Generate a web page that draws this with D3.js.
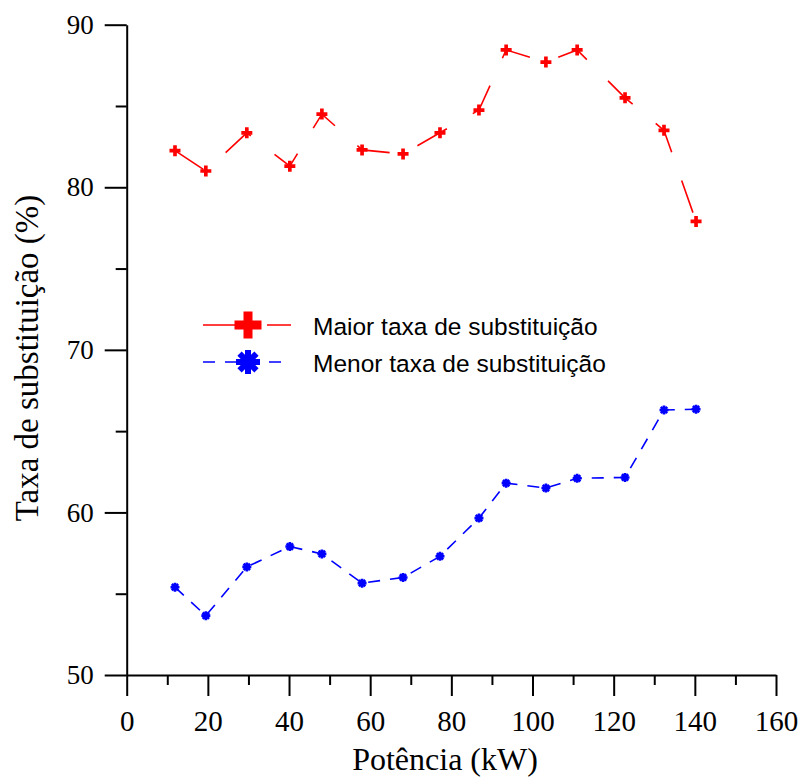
<!DOCTYPE html>
<html>
<head>
<meta charset="utf-8">
<script src="https://cdn.jsdelivr.net/npm/d3@7"></script>
<style>
  html, body { margin: 0; padding: 0; background: #fff; }
  svg { display: block; }
</style>
</head>
<body>
<svg id="chart" width="800" height="780"></svg>
<script>
// Power (kW) at each measurement
const potencia = [11.9, 19.5, 29.6, 40.2, 48.1, 58.0, 68.1, 77.2, 86.8, 93.5, 103.3, 111.0, 122.8, 132.4, 140.3];
// Highest substitution rate (%)
const maiorTaxa = [82.25, 81.0, 83.35, 81.3, 84.5, 82.3, 82.05, 83.35, 84.75, 88.45, 87.7, 88.45, 85.5, 83.5, 77.9];
// Lowest substitution rate (%)
const menorTaxa = [55.4, 53.65, 56.65, 57.9, 57.45, 55.65, 56.0, 57.3, 59.65, 61.8, 61.5, 62.1, 62.15, 66.3, 66.35];

const xMajorTicks = [0, 20, 40, 60, 80, 100, 120, 140, 160];
const xMinorTicks = [10, 30, 50, 70, 90, 110, 130, 150];
const yMajorTicks = [50, 60, 70, 80, 90];
const yMinorTicks = [55, 65, 75, 85];

const seriesNames = ["Maior taxa de substituição", "Menor taxa de substituição"];

const svg = d3.select("#chart");

const x = d3.scaleLinear().domain([0, 160]).range([126.7, 776]);
const y = d3.scaleLinear().domain([50, 90]).range([675, 24.7]);

const serif = "'Liberation Serif', 'Times New Roman', serif";
const sans = "'Liberation Sans', Arial, sans-serif";

// ---- axes ----
function styleAxis(g) {
  g.select(".domain").attr("stroke", "#000").attr("stroke-width", 2);
  g.selectAll(".tick line").attr("stroke", "#000").attr("stroke-width", 2);
}

const xAxisY = y(50);
const yAxisX = x(0);

svg.append("g")
  .attr("transform", `translate(0,${xAxisY})`)
  .call(d3.axisBottom(x).tickValues(xMinorTicks).tickSize(10).tickFormat(""))
  .call(styleAxis)
  .call(g => g.select(".domain").remove());

svg.append("g")
  .attr("transform", `translate(0,${xAxisY})`)
  .call(d3.axisBottom(x).tickValues(xMajorTicks).tickSize(21).tickSizeOuter(0).tickPadding(14).tickFormat(d3.format("d")))
  .call(styleAxis)
  .call(g => g.selectAll("text")
    .attr("font-family", serif).attr("font-size", 29).attr("fill", "#000"));

svg.append("g")
  .attr("transform", `translate(${yAxisX},0)`)
  .call(d3.axisLeft(y).tickValues(yMinorTicks).tickSize(11).tickFormat(""))
  .call(styleAxis)
  .call(g => g.select(".domain").remove());

svg.append("g")
  .attr("transform", `translate(${yAxisX},0)`)
  .call(d3.axisLeft(y).tickValues(yMajorTicks).tickSize(22).tickSizeOuter(0).tickPadding(11).tickFormat(d3.format("d")))
  .call(styleAxis)
  .call(g => g.selectAll("text")
    .attr("font-family", serif).attr("font-size", 27).attr("fill", "#000"));

// axis titles
svg.append("text")
  .attr("x", 445).attr("y", 770)
  .attr("text-anchor", "middle")
  .attr("font-family", serif).attr("font-size", 32)
  .text("Potência (kW)");

svg.append("text")
  .attr("transform", "translate(38,358) rotate(-90)")
  .attr("text-anchor", "middle")
  .attr("font-family", serif).attr("font-size", 33)
  .text("Taxa de substituição (%)");

// ---- marker shapes ----
const plusPath = w => d3.symbol(d3.symbolCross, 5 * (w / 3) * (w / 3))();
function asteriskPath(r) {
  const d = r * Math.SQRT1_2;
  return `M0,${-r}L0,${r}M${-r},0L${r},0M${-d},${-d}L${d},${d}M${-d},${d}L${d},${-d}`;
}

// ---- series ----
const line = d3.line().x(d => x(d[0])).y(d => y(d[1]));

const redData = potencia.map((p, i) => [p, maiorTaxa[i]]);
const blueData = potencia.map((p, i) => [p, menorTaxa[i]]);

svg.append("path")
  .datum(redData)
  .attr("d", line)
  .attr("fill", "none")
  .attr("stroke", "#ff0000")
  .attr("stroke-width", 1.6)
  .attr("stroke-dasharray", "34,30");

svg.append("path")
  .datum(blueData)
  .attr("d", line)
  .attr("fill", "none")
  .attr("stroke", "#0000ff")
  .attr("stroke-width", 1.6)
  .attr("stroke-dasharray", "12,10");

svg.append("g").selectAll("path")
  .data(redData).join("path")
  .attr("transform", d => `translate(${x(d[0])},${y(d[1])})`)
  .attr("d", plusPath(11))
  .attr("fill", "#ff0000");

svg.append("g").selectAll("path")
  .data(blueData).join("path")
  .attr("transform", d => `translate(${x(d[0])},${y(d[1])})`)
  .attr("d", asteriskPath(4.5))
  .attr("fill", "none")
  .attr("stroke", "#0000ff")
  .attr("stroke-width", 2.6);

// ---- legend ----
const legend = svg.append("g");
const legendRows = [
  { name: seriesNames[0], color: "#ff0000", dash: "34,30", y: 325, marker: "plus" },
  { name: seriesNames[1], color: "#0000ff", dash: "12,10", y: 362, marker: "asterisk" }
];
legendRows.forEach(r => {
  legend.append("line")
    .attr("x1", 203).attr("x2", 291)
    .attr("y1", r.y).attr("y2", r.y)
    .attr("stroke", r.color).attr("stroke-width", 1.6)
    .attr("stroke-dasharray", r.dash);
  if (r.marker === "plus") {
    legend.append("path")
      .attr("transform", `translate(248,${r.y})`)
      .attr("d", plusPath(27))
      .attr("fill", r.color);
  } else {
    legend.append("path")
      .attr("transform", `translate(248,${r.y})`)
      .attr("d", asteriskPath(12))
      .attr("fill", "none")
      .attr("stroke", r.color)
      .attr("stroke-width", 6);
  }
  legend.append("text")
    .attr("x", 313).attr("y", r.y + 10)
    .attr("font-family", sans).attr("font-size", 24.5)
    .attr("fill", "#000")
    .text(r.name);
});
</script>
</body>
</html>
